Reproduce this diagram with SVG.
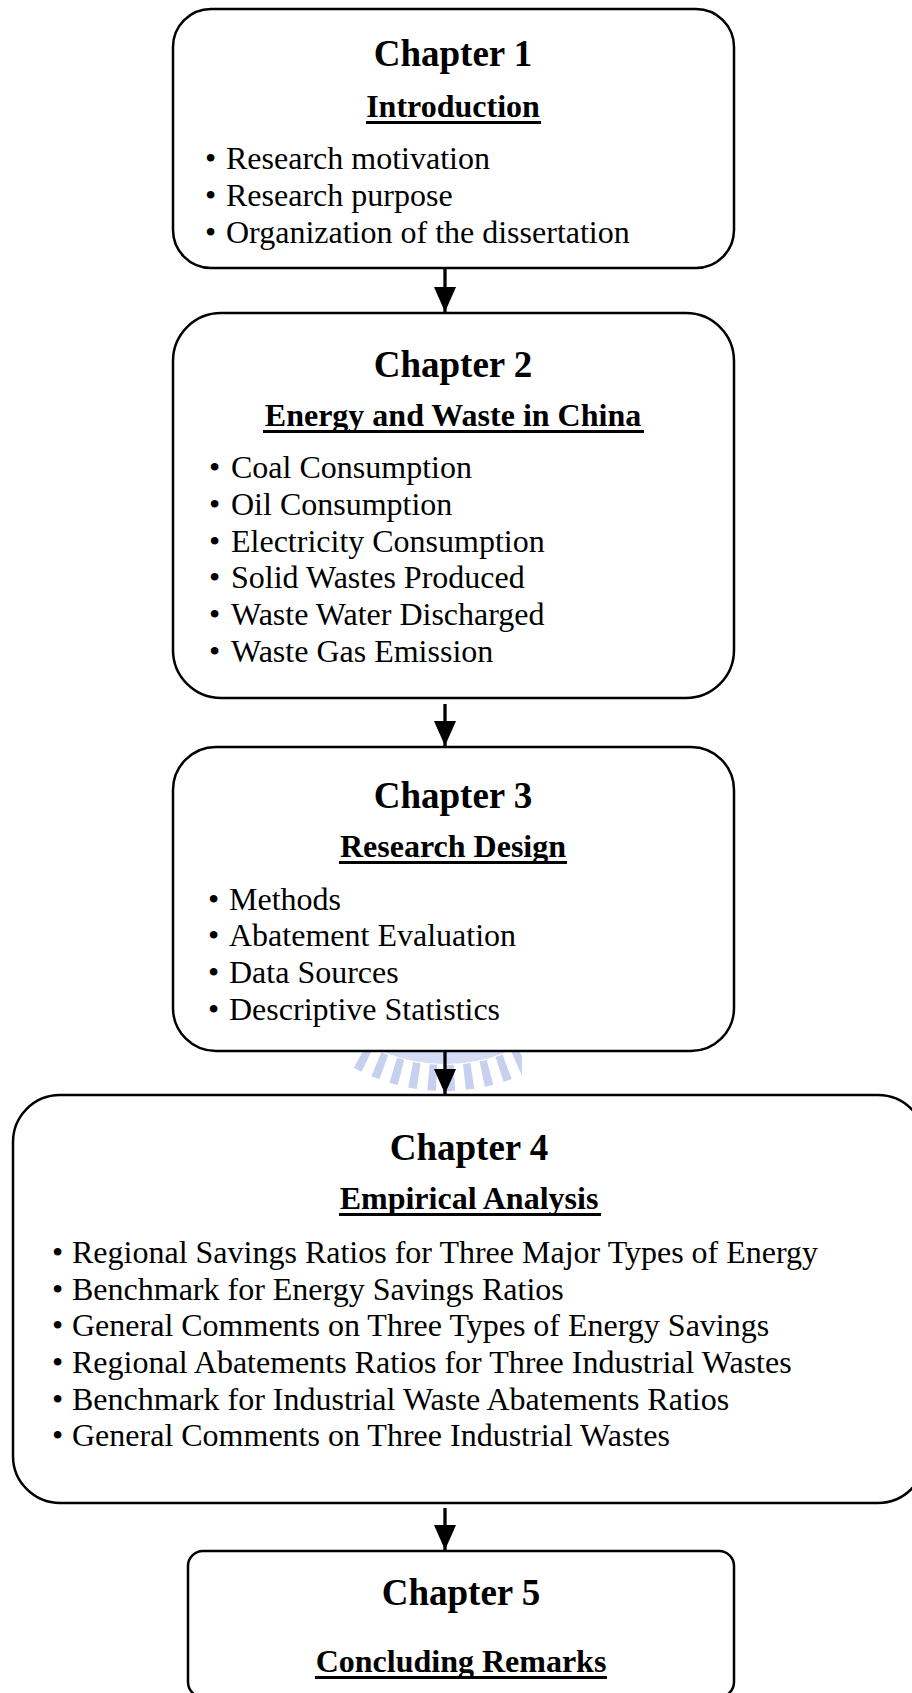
<svg xmlns="http://www.w3.org/2000/svg" width="912" height="1693" viewBox="0 0 912 1693">
<style>
.box{fill:#fff;stroke:#000;stroke-width:2.5}
.t{font-family:"Liberation Serif","Times New Roman",serif;font-weight:bold;font-size:37px;text-anchor:middle;fill:#000}
.s{font-family:"Liberation Serif","Times New Roman",serif;font-weight:bold;font-size:32px;text-anchor:middle;fill:#000}
.b{font-family:"Liberation Serif","Times New Roman",serif;font-size:32px;fill:#000}
.ul{stroke:#000;stroke-width:3}
.ln{stroke:#000;stroke-width:3.3;fill:none}
</style>
<defs>
<marker id="ah" markerUnits="userSpaceOnUse" markerWidth="26" markerHeight="22" refX="25" refY="11" orient="auto">
<path d="M0,0 L25,11 L0,22 Z" fill="#000"/>
</marker>
<clipPath id="wmclip"><rect x="352" y="1051" width="170" height="42"/></clipPath>
</defs>
<g id="watermark" clip-path="url(#wmclip)" opacity="0.5">
<circle cx="445" cy="900" r="158" fill="none" stroke="#a9baea" stroke-width="12"/>
<circle cx="445" cy="900" r="178" fill="none" stroke="#8ea3e0" stroke-width="26" stroke-dasharray="8 10"/>
</g>
<g id="connectors">
<line class="ln" x1="445" y1="268" x2="445" y2="312" marker-end="url(#ah)"/>
<line class="ln" x1="445" y1="704" x2="445" y2="746" marker-end="url(#ah)"/>
<line class="ln" x1="445" y1="1051" x2="445" y2="1094" marker-end="url(#ah)"/>
<line class="ln" x1="445" y1="1508" x2="445" y2="1550" marker-end="url(#ah)"/>
</g>
<g id="ch1">
<rect class="box" x="173" y="9" width="561" height="259" rx="38"/>
<text class="t" x="453" y="66">Chapter 1</text>
<text class="s" x="453" y="117">Introduction</text>
<line class="ul" x1="366" y1="122.5" x2="541" y2="122.5"/>
<text class="b" x="205" y="169">•</text><text class="b" x="226" y="169">Research motivation</text>
<text class="b" x="205" y="206">•</text><text class="b" x="226" y="206">Research purpose</text>
<text class="b" x="205" y="243">•</text><text class="b" x="226" y="243">Organization of the dissertation</text>
</g>
<g id="ch2">
<rect class="box" x="173" y="313" width="561" height="385" rx="48"/>
<text class="t" x="453" y="377">Chapter 2</text>
<text class="s" x="453" y="426">Energy and Waste in China</text>
<line class="ul" x1="263" y1="431.5" x2="644" y2="431.5"/>
<text class="b" x="209" y="478">•</text><text class="b" x="231" y="478">Coal Consumption</text>
<text class="b" x="209" y="515">•</text><text class="b" x="231" y="515">Oil Consumption</text>
<text class="b" x="209" y="552">•</text><text class="b" x="231" y="552">Electricity Consumption</text>
<text class="b" x="209" y="588">•</text><text class="b" x="231" y="588">Solid Wastes Produced</text>
<text class="b" x="209" y="625">•</text><text class="b" x="231" y="625">Waste Water Discharged</text>
<text class="b" x="209" y="662">•</text><text class="b" x="231" y="662">Waste Gas Emission</text>
</g>
<g id="ch3">
<rect class="box" x="173" y="747" width="561" height="304" rx="43"/>
<text class="t" x="453" y="808">Chapter 3</text>
<text class="s" x="453" y="857">Research Design</text>
<line class="ul" x1="339" y1="862.5" x2="567" y2="862.5"/>
<text class="b" x="208" y="910">•</text><text class="b" x="229" y="910">Methods</text>
<text class="b" x="208" y="946">•</text><text class="b" x="229" y="946">Abatement Evaluation</text>
<text class="b" x="208" y="983">•</text><text class="b" x="229" y="983">Data Sources</text>
<text class="b" x="208" y="1020">•</text><text class="b" x="229" y="1020">Descriptive Statistics</text>
</g>
<g id="ch4">
<rect class="box" x="13" y="1095" width="912" height="408" rx="47"/>
<text class="t" x="469" y="1160">Chapter 4</text>
<text class="s" x="469" y="1209">Empirical Analysis</text>
<line class="ul" x1="339" y1="1214.5" x2="601" y2="1214.5"/>
<text class="b" x="52" y="1263">•</text><text class="b" x="72" y="1263">Regional Savings Ratios for Three Major Types of Energy</text>
<text class="b" x="52" y="1300">•</text><text class="b" x="72" y="1300">Benchmark for Energy Savings Ratios</text>
<text class="b" x="52" y="1336">•</text><text class="b" x="72" y="1336">General Comments on Three Types of Energy Savings</text>
<text class="b" x="52" y="1373">•</text><text class="b" x="72" y="1373">Regional Abatements Ratios for Three Industrial Wastes</text>
<text class="b" x="52" y="1410">•</text><text class="b" x="72" y="1410">Benchmark for Industrial Waste Abatements Ratios</text>
<text class="b" x="52" y="1446">•</text><text class="b" x="72" y="1446">General Comments on Three Industrial Wastes</text>
</g>
<g id="ch5">
<rect class="box" x="188" y="1551" width="546" height="146" rx="15"/>
<text class="t" x="461" y="1605">Chapter 5</text>
<text class="s" x="461" y="1672">Concluding Remarks</text>
<line class="ul" x1="315" y1="1677.5" x2="607" y2="1677.5"/>
</g>
</svg>
